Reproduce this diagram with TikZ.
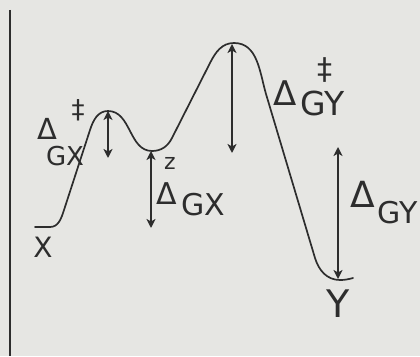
\documentclass[tikz,border=0pt]{standalone}
\usepackage{fontspec}
\setmainfont{DejaVu Sans}
\usetikzlibrary{arrows.meta}
\definecolor{paper}{RGB}{230,230,227}
\definecolor{ink}{RGB}{45,45,45}
\begin{document}
\begin{tikzpicture}[x=1pt, y=1pt,
    curve/.style={ink, line width=1.7pt, line cap=round, line join=round},
    gap/.style={ink, line width=1.6pt, {Stealth[length=9pt,width=9pt,inset=2.5pt]}-{Stealth[length=9pt,width=9pt,inset=2.5pt]}},
    lbl/.style={ink, inner sep=0pt, font=\fontsize{30}{30}\selectfont},
    dlt/.style={ink, inner sep=0pt, font=\fontsize{34}{34}\selectfont}]
    \fill[paper] (0,0) rectangle (420,356);
    \useasboundingbox (0,0) rectangle (420,356);
    % Energy axis
    \coordinate (top) at (10,346);
    \coordinate (bot) at (10,0);
    \draw[ink, line width=2.4pt] (top) -- (bot);
    % Stationary points of the profile
    \coordinate (x0)  at (35,129);
    \coordinate (ts1) at (108,245);
    \coordinate (z)   at (152,205);
    \coordinate (ts2) at (234,313);
    \coordinate (y0)  at (340,76);
    \coordinate (y1)  at (353,78);
    % Reaction profile
    \draw[curve] (x0) -- (50,129) to[out=0,in=252] (64,146) -- (90,226) to[out=72,in=180] (ts1)
      to[out=0,in=180] (z) to[out=0,in=243] (172,218) -- (210,293) to[out=63,in=180] (ts2)
      to[out=0,in=106] (266,262) -- (315,98) to[out=-73,in=180] (y0) to[out=0,in=195] (y1);
    % Arrow ends
    \coordinate (a1) at (108,198);
    \coordinate (a2) at (151,128);
    \coordinate (a3t) at (232,312);
    \coordinate (a3b) at (232,203);
    \coordinate (a4t) at (338,209);
    \coordinate (a4b) at (338,77);
    % Energy gaps
    \draw[gap] (ts1) -- (a1);
    \draw[gap] (z -| a2) -- (a2);
    \draw[gap] (a3t) -- (a3b);
    \draw[gap] (a4t) -- (a4b);
    % Labels, left barrier
    \node[lbl, font=\fontsize{26}{26}\selectfont] (dd1) at (78,246) {‡};
    \node[dlt, font=\fontsize{29}{29}\selectfont] (d1)  at (47,227) {Δ};
    \node[lbl, font=\fontsize{26}{26}\selectfont] (g1)  at (65,200) {GX};
    \node[lbl, font=\fontsize{28}{28}\selectfont] (lx)  at (43,109) {X};
    % Labels, intermediate
    \node[dlt, font=\fontsize{22}{22}\selectfont] (lz)  at (170,193) {z};
    \node[dlt, font=\fontsize{30}{30}\selectfont] (d2)  at (167,162) {Δ};
    \node[lbl] (g2)  at (203,151) {GX};
    % Labels, right barrier
    \node[lbl, font=\fontsize{30}{30}\selectfont] (dd2) at (325,286) {‡};
    \node[dlt] (d3)  at (285,263) {Δ};
    \node[lbl, font=\fontsize{33}{33}\selectfont] (g3)  at (323,253) {GY};
    % Labels, products
    \node[dlt, font=\fontsize{36}{36}\selectfont] (d4)  at (363,162) {Δ};
    \node[lbl, font=\fontsize{30}{30}\selectfont] (g4)  at (398,143) {GY};
    \node[lbl, font=\fontsize{38}{38}\selectfont] (ly)  at (338,52) {Y};
\end{tikzpicture}
\end{document}
